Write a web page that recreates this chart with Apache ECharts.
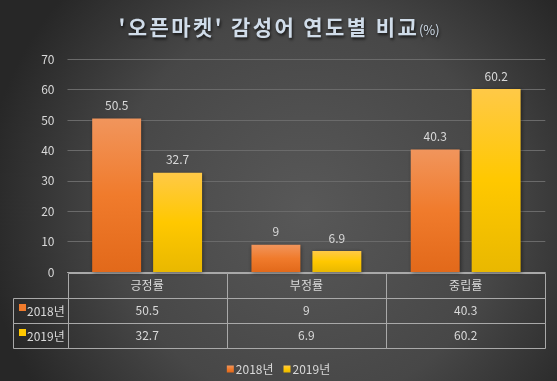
<!DOCTYPE html>
<html>
<head>
<meta charset="utf-8">
<script src="https://cdn.jsdelivr.net/npm/echarts@6/dist/echarts.min.js"></script>
<style>html,body{margin:0;padding:0;background:#333;}#c{width:557px;height:381px;}</style>
</head>
<body>
<div id="c"></div>
<script>
const categories = ['긍정률', '부정률', '중립률'];
const seriesNames = ['2018년', '2019년'];
const values2018 = [50.5, 9, 40.3];
const values2019 = [32.7, 6.9, 60.2];
const yMin = 0, yMax = 70, yStep = 10;
const titleMain = "'오픈마켓' 감성어 연도별 비교";
const titleUnit = '(%)';

const FONT = "'Noto Sans CJK KR', 'Noto Sans', sans-serif";
const TXT = '#d9d9d9';
const LINE = '#a9a9a9';
const TITLE_C = '#d0dce9';
const colors = [
  new echarts.graphic.LinearGradient(0, 0, 0, 1, [
    {offset: 0, color: '#f1955c'}, {offset: 0.5, color: '#f07b2c'}, {offset: 1, color: '#e2691a'}]),
  new echarts.graphic.LinearGradient(0, 0, 0, 1, [
    {offset: 0, color: '#ffc947'}, {offset: 0.5, color: '#ffc800'}, {offset: 1, color: '#e9b800'}])
];
const solid = ['#f07b2c', '#ffc800'];

// table cells built from the data arrays
const allValues = [values2018, values2019];
const cells = [];
categories.forEach((c, i) => cells.push({col: i, row: 0, text: c}));
allValues.forEach((arr, r) => arr.forEach((v, i) => cells.push({col: i, row: r + 1, text: String(v)})));
seriesNames.forEach((n, r) => cells.push({col: -1, row: r + 1, text: n, key: r}));

const shadow = {textShadowColor: 'rgba(0,0,0,0.7)', textShadowBlur: 3, textShadowOffsetX: 1, textShadowOffsetY: 2};
const titleText = titleMain.split('').map(ch => '{c|' + ch + '}').join('') + '{u|' + titleUnit + '}';

const chart = echarts.init(document.getElementById('c'));
chart.setOption({
  backgroundColor: new echarts.graphic.RadialGradient(0.55, 0.55, 0.85, [
    {offset: 0, color: '#585858'}, {offset: 0.6, color: '#474747'}, {offset: 1, color: '#272727'}]),
  textStyle: {fontFamily: FONT},
  title: {
    text: titleText,
    left: 'center', top: 12,
    textStyle: {
      fontFamily: FONT, fontSize: 21, fontWeight: 'bold', color: TITLE_C,
      rich: {
        c: Object.assign({fontFamily: FONT, fontSize: 21, fontWeight: 'bold', color: TITLE_C, padding: [0, 1.2, 0, 1.2]}, shadow),
        u: Object.assign({fontFamily: FONT, fontSize: 13, fontWeight: 'normal', color: TITLE_C, padding: [6, 0, 0, 1]}, shadow)
      }
    }
  },
  legend: {
    data: seriesNames, left: 'center', top: 358, icon: 'rect', itemWidth: 7, itemHeight: 7, itemGap: 10,
    textStyle: {color: TXT, fontSize: 12, fontFamily: FONT, padding: [0, 0, 0, -3]}
  },
  grid: [
    {left: 67.5, right: 11.7, top: 59.3, height: 212.7},
    {left: 67.5, right: 11.7, top: 272.5, height: 75}
  ],
  xAxis: [
    {type: 'category', data: categories, gridIndex: 0,
      axisLine: {lineStyle: {color: LINE}}, axisTick: {show: false}, axisLabel: {show: false}},
    {type: 'value', gridIndex: 1, min: 0, max: 3, show: false}
  ],
  yAxis: [
    {type: 'value', gridIndex: 0, min: yMin, max: yMax, interval: yStep,
      axisLine: {show: false}, axisTick: {show: false},
      axisLabel: {color: TXT, fontSize: 12, margin: 13, fontFamily: FONT},
      splitLine: {lineStyle: {color: '#6a6a6a'}}},
    {type: 'value', gridIndex: 1, min: 0, max: 3, inverse: true, show: false}
  ],
  series: [
    {name: seriesNames[0], type: 'bar', data: values2018, barCategoryGap: '31%', barGap: '24.5%',
      itemStyle: {color: colors[0], shadowColor: 'rgba(0,0,0,0.45)', shadowBlur: 4, shadowOffsetX: 1, shadowOffsetY: 1},
      label: {show: true, position: 'top', distance: 7, color: TXT, fontSize: 12, fontFamily: FONT}},
    {name: seriesNames[1], type: 'bar', data: values2019, barCategoryGap: '31%', barGap: '24.5%',
      itemStyle: {color: colors[1], shadowColor: 'rgba(0,0,0,0.45)', shadowBlur: 4, shadowOffsetX: 1, shadowOffsetY: 1},
      label: {show: true, position: 'top', distance: 7, color: TXT, fontSize: 12, fontFamily: FONT}},
    {type: 'custom', xAxisIndex: 1, yAxisIndex: 1, silent: true,
      data: cells.map(c => [c.col, c.row]),
      renderItem: function (params, api) {
        const cell = cells[params.dataIndex];
        const cs = params.coordSys;
        let x0, x1;
        const y0 = api.coord([0, cell.row])[1];
        const y1 = api.coord([0, cell.row + 1])[1];
        if (cell.col >= 0) {
          x0 = api.coord([cell.col, 0])[0];
          x1 = api.coord([cell.col + 1, 0])[0];
        } else {
          x0 = cs.x - 54.5; x1 = cs.x;
        }
        const children = [{
          type: 'rect',
          shape: {x: Math.round(x0) + 0.5, y: Math.round(y0) + 0.5, width: Math.round(x1) - Math.round(x0), height: Math.round(y1) - Math.round(y0)},
          style: {fill: 'none', stroke: LINE, lineWidth: 1}
        }];
        const cy = (y0 + y1) / 2;
        if (cell.col >= 0) {
          children.push({type: 'text', x: (x0 + x1) / 2, y: cy,
            style: {text: cell.text, fill: TXT, fontSize: 12, fontFamily: FONT, align: 'center', verticalAlign: 'middle'}});
        } else {
          children.push({type: 'rect', shape: {x: x0 + 6, y: cy - 6, width: 7, height: 7},
            style: {fill: solid[cell.key]}});
          children.push({type: 'text', x: x0 + 14, y: cy + 1,
            style: {text: cell.text, fill: TXT, fontSize: 12, fontFamily: FONT, align: 'left', verticalAlign: 'middle'}});
        }
        return {type: 'group', children: children};
      }
    }
  ]
});
</script>
</body>
</html>
